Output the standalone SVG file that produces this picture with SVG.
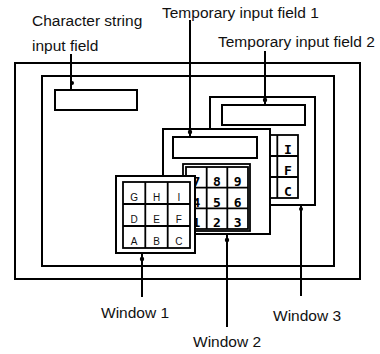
<svg xmlns="http://www.w3.org/2000/svg" width="380" height="354" viewBox="0 0 380 354">
<style>
.f{fill:none;stroke:#000;stroke-width:2}
.w{fill:#fff;stroke:#000;stroke-width:2}
.g{fill:none;stroke:#000;stroke-width:1.8}
.l{fill:none;stroke:#000;stroke-width:2}
.lab{font-family:"Liberation Sans",Arial,sans-serif;font-size:15.5px;fill:#111}
.k{font-family:"Liberation Sans",Arial,sans-serif;font-size:10px;fill:#111;text-anchor:middle}
.d{font-family:"DejaVu Sans Mono",monospace;font-size:13px;font-weight:bold;fill:#000;text-anchor:middle}
.dot{fill:#000}
</style>
<g id="screen">
<rect class="f" x="15" y="63" width="345" height="216"/>
</g>
<g id="base-window">
<rect class="f" x="42" y="76" width="292" height="190"/>
</g>
<g id="char-field">
<rect class="f" x="55" y="90" width="82" height="20"/>
</g>
<g id="window3">
<rect class="w" x="210" y="97" width="105" height="108"/>
<rect class="f" x="222" y="105" width="83" height="20"/>
<rect class="g" x="236" y="135" width="62" height="63"/>
<path class="g" d="M256.7 135V198M277.3 135V198M236 156H298M236 177H298"/>
<text class="d" x="288" y="154">I</text>
<text class="d" x="288" y="175">F</text>
<text class="d" x="288" y="196">C</text>
</g>
<g id="window2">
<rect class="w" x="163" y="129" width="107" height="105"/>
<rect class="f" x="173" y="137" width="84" height="21"/>
<rect class="g" x="183" y="164" width="67" height="67"/>
<rect class="g" x="186" y="167" width="62" height="62"/>
<path class="g" d="M206.7 167V229M227.3 167V229M186 187.7H248M186 208.3H248"/>
<text class="d" x="196.3" y="186">7</text>
<text class="d" x="217" y="186">8</text>
<text class="d" x="237.7" y="186">9</text>
<text class="d" x="196.3" y="207">4</text>
<text class="d" x="217" y="207">5</text>
<text class="d" x="237.7" y="207">6</text>
<text class="d" x="196.3" y="227">1</text>
<text class="d" x="217" y="227">2</text>
<text class="d" x="237.7" y="227">3</text>
</g>
<g id="window1">
<rect class="w" x="116" y="176" width="79" height="77"/>
<rect class="g" x="123" y="182" width="67" height="66"/>
<path class="g" d="M145.3 182V248M167.7 182V248M123 204H190M123 226H190"/>
<text class="k" x="134.2" y="201">G</text>
<text class="k" x="156.5" y="201">H</text>
<text class="k" x="178.8" y="201">I</text>
<text class="k" x="134.2" y="223">D</text>
<text class="k" x="156.5" y="223">E</text>
<text class="k" x="178.8" y="223">F</text>
<text class="k" x="134.2" y="245">A</text>
<text class="k" x="156.5" y="245">B</text>
<text class="k" x="178.8" y="245">C</text>
</g>
<g id="connectors">
<path class="l" d="M71 54V90"/>
<circle class="dot" cx="72" cy="83" r="2"/>
<path class="l" d="M190 20V137"/>
<circle class="dot" cx="190" cy="132" r="2.2"/>
<path class="l" d="M265 51V105"/>
<circle class="dot" cx="265" cy="100" r="2.2"/>
<path class="l" d="M142 253V297"/>
<circle class="dot" cx="142" cy="259" r="2.2"/>
<path class="l" d="M227 234V327"/>
<circle class="dot" cx="227" cy="240" r="2.2"/>
<path class="l" d="M301 205V296"/>
<circle class="dot" cx="301" cy="209" r="2"/>
</g>
<g id="labels">
<text class="lab" x="32" y="26">Character string</text>
<text class="lab" x="32" y="51">input field</text>
<text class="lab" x="162" y="18">Temporary input field 1</text>
<text class="lab" x="218" y="47">Temporary input field 2</text>
<text class="lab" x="101" y="318">Window 1</text>
<text class="lab" x="193" y="347">Window 2</text>
<text class="lab" x="273" y="321">Window 3</text>
</g>
</svg>
